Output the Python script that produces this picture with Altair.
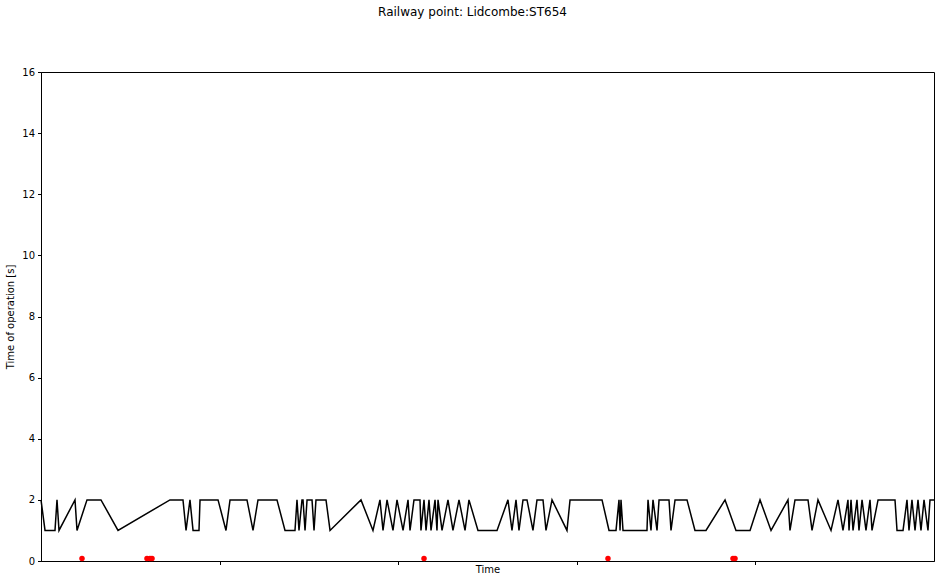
import altair as alt
import pandas as pd

# Time in hours from start of record, operation time in seconds
line_time = [0.0, 0.54, 1.88, 2.15, 2.42, 4.57, 4.84, 6.18, 8.06, 10.35,
             17.33, 19.08, 19.49, 20.02, 20.43, 21.23, 21.37, 23.79, 24.86, 25.40,
             27.68, 28.49, 29.16, 31.71, 32.79, 34.13, 34.40, 34.67, 35.07, 35.21,
             35.48, 35.75, 36.42, 36.69, 36.95, 38.30, 38.84, 43.00, 44.61, 45.55,
             45.96, 46.50, 47.30, 47.84, 48.65, 49.32, 49.59, 50.12, 50.93, 51.06,
             51.47, 51.74, 52.14, 52.41, 52.95, 53.21, 53.35, 53.89, 54.69, 55.36,
             56.17, 56.98, 57.51, 58.72, 61.28, 62.75, 63.29, 63.83, 64.23, 64.77,
             65.31, 66.11, 66.65, 67.46, 67.86, 68.67, 70.68, 71.09, 75.39, 76.33,
             77.27, 77.67, 77.81, 77.94, 78.21, 81.43, 81.57, 81.97, 82.24, 82.78,
             83.05, 84.39, 84.66, 85.20, 86.81, 87.88, 89.36, 91.92, 93.39, 95.28,
             96.62, 98.10, 100.38, 100.65, 101.32, 103.07, 103.61, 104.41, 106.16, 107.10,
             107.77, 108.44, 108.58, 108.85, 109.12, 109.65, 109.92, 110.33, 110.86, 111.40,
             111.67, 112.48, 114.76, 115.03, 115.84, 116.37, 116.64, 117.04, 117.45, 117.85,
             118.25, 118.66, 119.19, 119.46, 120.0]
line_value = [2, 1, 1, 2, 1, 2, 1, 2, 2, 1,
              2, 2, 1, 2, 1, 1, 2, 2, 1, 2,
              2, 1, 2, 2, 1, 1, 2, 1, 2, 2,
              1, 2, 2, 1, 2, 2, 1, 2, 1, 2,
              1, 2, 1, 2, 1, 2, 1, 2, 2, 1,
              2, 1, 2, 1, 2, 1, 2, 1, 2, 1,
              2, 1, 2, 1, 1, 2, 1, 2, 1, 2,
              2, 1, 2, 2, 1, 2, 1, 2, 2, 1,
              1, 2, 1, 2, 1, 1, 2, 1, 2, 1,
              2, 2, 1, 2, 2, 1, 1, 2, 1, 1,
              2, 1, 2, 1, 2, 2, 1, 2, 1, 2,
              1, 2, 1, 2, 1, 2, 1, 2, 1, 2,
              1, 2, 2, 1, 1, 2, 1, 2, 1, 2,
              1, 2, 1, 2, 2]

fail_time = [5.51, 14.24, 14.65, 14.92, 51.47, 76.19, 92.99, 93.26]
fail_value = [0.08, 0.08, 0.08, 0.08, 0.08, 0.08, 0.08, 0.08]

x_ticks = [24, 48, 72, 96]
y_ticks = [0, 2, 4, 6, 8, 10, 12, 14, 16]

line_df = pd.DataFrame({"t": line_time, "v": line_value})
fail_df = pd.DataFrame({"t": fail_time, "v": fail_value})

FONT = "DejaVu Sans"

x_enc = alt.X("t:Q", scale=alt.Scale(domain=[0, 120], nice=False, zero=False),
              axis=alt.Axis(title="Time", values=x_ticks, labels=False, grid=False,
                            tickSize=3.5, titlePadding=-1, titleFontSize=10,
                            titleFontWeight="normal", titleFont=FONT,
                            domainColor="black", tickColor="black", titleColor="black"))
y_enc = alt.Y("v:Q", scale=alt.Scale(domain=[0, 16], nice=False),
              axis=alt.Axis(title="Time of operation [s]", values=y_ticks, grid=False,
                            tickSize=3.5, labelPadding=3, labelFontSize=10, labelFont=FONT,
                            labelColor="black", titlePadding=6, titleFontSize=10,
                            titleFontWeight="normal", titleFont=FONT,
                            domainColor="black", tickColor="black", titleColor="black"))

line = alt.Chart(line_df).mark_line(color="black", strokeWidth=1.5).encode(x=x_enc, y=y_enc)
pts = alt.Chart(fail_df).mark_circle(color="red", size=30, opacity=1).encode(x="t:Q", y="v:Q")

chart = alt.layer(line, pts).properties(
    width=893, height=489,
    background="white",
    autosize=alt.AutoSizeParams(type="none"),
    padding={"left": 41, "top": 72, "right": 10, "bottom": 21},
    title=alt.TitleParams("Railway point: Lidcombe:ST654", fontSize=12, font=FONT,
                          fontWeight="normal", color="black", anchor="middle",
                          frame="group", baseline="middle", offset=43, dx=-15),
).configure_view(stroke="black", strokeWidth=1)

chart.save("out.html", embed_options={"renderer": "svg", "actions": False})
